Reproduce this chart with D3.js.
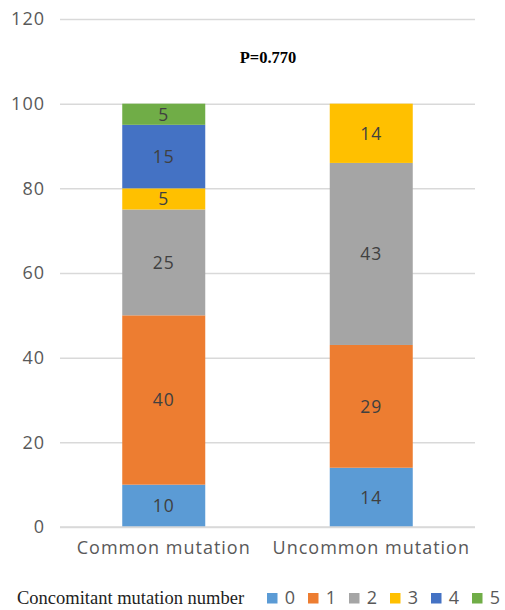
<!DOCTYPE html>
<html>
<head>
<meta charset="utf-8">
<script src="https://cdn.jsdelivr.net/npm/d3@7"></script>
<style>
  html, body { margin: 0; padding: 0; background: #fff; }
  svg { display: block; }
</style>
</head>
<body>
<svg id="chart" width="505" height="610"></svg>
<script>
// Groups on the x axis
const categories = ["Common mutation", "Uncommon mutation"];
// Number of concomitant mutations (stack keys)
const seriesKeys = ["0", "1", "2", "3", "4", "5"];
// Percentage of patients per concomitant mutation count, one array per key
const series0 = [10, 14];
const series1 = [40, 29];
const series2 = [25, 43];
const series3 = [5, 14];
const series4 = [15, 0];
const series5 = [5, 0];
const seriesColors = ["#5B9BD5", "#ED7D31", "#A5A5A5", "#FFC000", "#4472C4", "#70AD47"];
const yTicks = [0, 20, 40, 60, 80, 100, 120];
const pValueText = "P=0.770";
const legendTitle = "Concomitant mutation number";

const allSeries = [series0, series1, series2, series3, series4, series5];
const rows = categories.map((c, i) => {
  const r = { category: c };
  seriesKeys.forEach((k, j) => { r[k] = allSeries[j][i]; });
  return r;
});

const svg = d3.select("#chart");
const plotLeft = 60, plotRight = 475, plotTop = 19, plotBottom = 527;

const x = d3.scaleBand().domain(categories).range([plotLeft, plotRight]).paddingInner(0.6).paddingOuter(0.3);
const y = d3.scaleLinear().domain([0, 120]).range([plotBottom, plotTop]);
const color = d3.scaleOrdinal().domain(seriesKeys).range(seriesColors);

const uiFont = "'Open Sans', Lato, sans-serif";
const serif = "'Liberation Serif', 'DejaVu Serif', serif";

// Horizontal gridlines with tick labels
const yAxis = d3.axisLeft(y).tickValues(yTicks).tickSize(-(plotRight - plotLeft)).tickPadding(15);
const gy = svg.append("g").attr("transform", `translate(${plotLeft},0)`).call(yAxis);
gy.select(".domain").remove();
gy.selectAll(".tick line").attr("stroke", "#D9D9D9").attr("stroke-width", 1.5);
gy.selectAll(".tick text")
  .attr("fill", "#595959")
  .style("font-family", uiFont)
  .style("font-size", "18px")
  .style("letter-spacing", "1px");

// Stacked bars
const stack = d3.stack().keys(seriesKeys);
const stacked = stack(rows);

const layers = svg.append("g").selectAll("g")
  .data(stacked)
  .join("g")
  .attr("fill", d => color(d.key));

layers.selectAll("rect")
  .data(d => d.map(p => ({ p, key: d.key })))
  .join("rect")
  .attr("x", d => x(d.p.data.category))
  .attr("width", x.bandwidth())
  .attr("y", d => y(d.p[1]))
  .attr("height", d => y(d.p[0]) - y(d.p[1]));

// Segment value labels
const labels = svg.append("g");
stacked.forEach(layer => {
  layer.forEach(p => {
    const v = p[1] - p[0];
    if (v <= 0) return;
    labels.append("text")
      .attr("x", x(p.data.category) + x.bandwidth() / 2)
      .attr("y", (y(p[0]) + y(p[1])) / 2)
      .attr("dy", "0.36em")
      .attr("text-anchor", "middle")
      .attr("fill", "#404040")
      .style("font-family", uiFont)
      .style("font-size", "17.5px")
      .style("letter-spacing", "1px")
      .text(v);
  });
});

// Baseline
svg.append("line")
  .attr("x1", plotLeft).attr("x2", plotRight)
  .attr("y1", y(0)).attr("y2", y(0))
  .attr("stroke", "#D9D9D9").attr("stroke-width", 1.5);

// Category labels
const xAxis = d3.axisBottom(x).tickSize(0).tickPadding(14);
const gx = svg.append("g").attr("transform", `translate(0,${plotBottom})`).call(xAxis);
gx.select(".domain").remove();
gx.selectAll(".tick text")
  .attr("fill", "#595959")
  .style("font-family", uiFont)
  .style("font-size", "18px")
  .style("letter-spacing", "1px");

// Significance annotation
svg.append("text")
  .attr("x", 268).attr("y", 63)
  .attr("text-anchor", "middle")
  .attr("fill", "#000")
  .style("font-family", serif)
  .style("font-weight", "bold")
  .style("font-size", "16.5px")
  .text(pValueText);

// Legend
const legendY = 598;
svg.append("text")
  .attr("x", 17).attr("y", legendY)
  .attr("dy", "0.35em")
  .attr("fill", "#222")
  .style("font-family", serif)
  .style("font-size", "18.5px")
  .text(legendTitle);

const legendStep = 41;
const legend = svg.append("g").selectAll("g")
  .data(seriesKeys)
  .join("g")
  .attr("transform", (d, i) => `translate(${267 + i * legendStep},${legendY})`);
legend.append("rect")
  .attr("x", 0).attr("y", -5)
  .attr("width", 10.5).attr("height", 10.5)
  .attr("fill", d => color(d));
legend.append("text")
  .attr("x", 23).attr("y", 0)
  .attr("dy", "0.36em")
  .attr("text-anchor", "middle")
  .attr("fill", "#595959")
  .style("font-family", uiFont)
  .style("font-size", "18px")
  .text(d => d);
</script>
</body>
</html>
